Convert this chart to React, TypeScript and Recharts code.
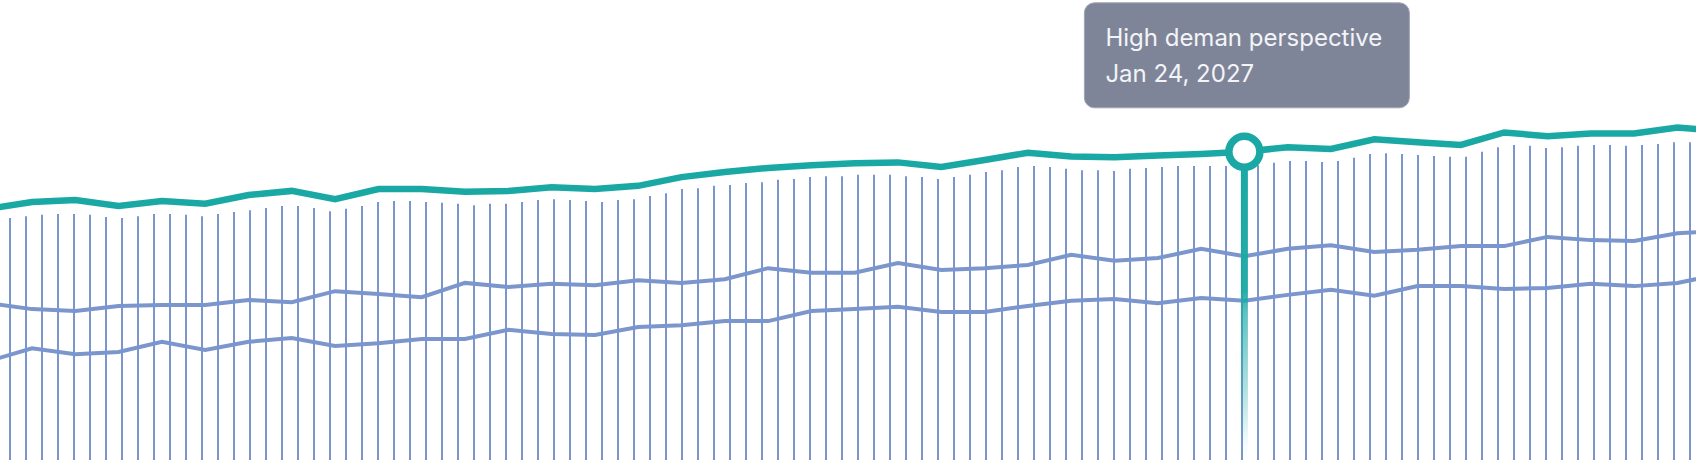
import React from 'react';
import { ComposedChart, Bar, Line, XAxis, YAxis } from 'recharts';

// weekly points of the three lines (first and last sit just outside the frame)
const pointIndex = [
  -1, 0, 1, 2, 3, 4, 5, 6, 7, 8, 9, 10, 11, 12, 13, 14, 15, 16, 17, 18, 19, 20,
  21, 22, 23, 24, 25, 26, 27, 28, 29, 30, 31, 32, 33, 34, 35, 36, 37, 38, 39,
];

const highDemand = [
  54.6, 56.1, 56.5, 55.2, 56.3, 55.7, 57.6, 58.5, 56.7, 58.9, 58.9, 58.3, 58.5, 59.3,
  58.9, 59.6, 61.5, 62.6, 63.5, 64.1, 64.5, 64.7, 63.7, 65.2, 66.8, 66.0, 65.8, 66.2,
  66.5, 67.0, 68.0, 67.6, 69.7, 69.1, 68.5, 71.2, 70.4, 71.0, 71.0, 72.3, 71.5,
];

const midDemand = [
  34.1, 32.8, 32.4, 33.5, 33.7, 33.7, 34.8, 34.3, 36.7, 36.1, 35.4, 38.5, 37.6, 38.3,
  38.0, 39.1, 38.5, 39.3, 41.7, 40.7, 40.7, 42.8, 41.3, 41.7, 42.4, 44.6, 43.3, 43.9,
  45.9, 44.3, 45.9, 46.7, 45.2, 45.7, 46.5, 46.5, 48.5, 47.8, 47.6, 49.3, 49.8,
];

const lowDemand = [
  21.5, 24.3, 23.0, 23.5, 25.7, 23.9, 25.7, 26.5, 24.8, 25.4, 26.3, 26.3, 28.3, 27.4,
  27.2, 28.9, 29.3, 30.2, 30.2, 32.4, 32.8, 33.3, 32.2, 32.2, 33.5, 34.6, 35.0, 34.1,
  35.2, 34.6, 35.9, 37.0, 35.7, 37.8, 37.8, 37.2, 37.4, 38.3, 37.8, 38.5, 40.4,
];

// daily volume ticks drawn as thin bars
const dailyVolume = [
  52.6, 53.0, 53.3, 53.5, 53.5, 53.3, 52.8, 52.6, 53.0, 53.5, 53.5, 53.3, 53.0, 53.5, 53.9, 54.3, 54.8, 55.2,
  55.2, 54.8, 54.1, 54.6, 55.2, 56.1, 56.3, 56.3, 56.1, 55.9, 55.7, 55.4, 55.7, 55.7, 56.1, 56.5, 56.7,
  56.5, 56.3, 56.1, 56.5, 56.7, 57.4, 58.0, 58.9, 59.1, 59.6, 59.8, 60.2, 60.4, 60.9, 61.1, 61.5, 61.7, 61.7,
  62.0, 62.0, 62.0, 61.7, 61.5, 61.1, 61.5, 62.0, 62.6, 63.0, 63.7, 63.9, 63.7, 63.3, 63.0, 63.0, 62.8, 63.3,
  63.5, 63.7, 63.9, 63.9, 63.9, 63.9, 64.1, 64.1, 64.6, 65.0, 65.0, 64.8, 65.0, 65.7, 66.5, 66.7, 66.5,
  66.3, 66.1, 65.9, 65.9, 67.0, 68.0, 68.5, 68.3, 67.8, 68.0, 68.3, 68.5, 68.5, 68.3, 68.5, 68.7, 69.1, 69.1,
];

const ACTIVE_POINT = 28;
const tooltipTitle = 'High deman perspective';
const tooltipDate = 'Jan 24, 2027';

const TEAL = '#1aa8a4';
const BLUE = '#7b96cc';
const W = 1696;
const H = 460;

const barRows = dailyVolume.map((v, i) => ({ i, v }));
const lineRows = pointIndex.map((k, idx) => ({
  k,
  high: highDemand[idx],
  mid: midDemand[idx],
  low: lowDemand[idx],
}));

const ActiveDot = (props: any) => {
  const { cx, cy, payload, index } = props;
  if (!payload || payload.k !== ACTIVE_POINT) return <g key={`dot-${index}`} />;
  return (
    <g key="active-dot">
      <defs>
        <linearGradient id="stemFade" x1="0" y1="0" x2="0" y2="1">
          <stop offset="0" stopColor={TEAL} stopOpacity={1} />
          <stop offset="0.45" stopColor={TEAL} stopOpacity={0.95} />
          <stop offset="0.52" stopColor={TEAL} stopOpacity={0.7} />
          <stop offset="0.8" stopColor={TEAL} stopOpacity={0.3} />
          <stop offset="0.95" stopColor={TEAL} stopOpacity={0.04} />
          <stop offset="1" stopColor={TEAL} stopOpacity={0} />
        </linearGradient>
      </defs>
      <rect x={cx - 3.5} y={cy} width={7} height={H - cy} fill="url(#stemFade)" />
      <circle cx={cx} cy={cy} r={15.5} fill="#fff" stroke={TEAL} strokeWidth={7.5} />
      <rect
        x={cx - 160}
        y={cy - 149}
        width={325}
        height={105}
        rx={10}
        fill="#7f8599"
        stroke="#a0a5b4"
        strokeWidth={1}
      />
      <text x={cx - 139} y={cy - 106} fill="#f3f4f7" fontSize={24} fontFamily="Inter">
        {tooltipTitle}
      </text>
      <text x={cx - 139} y={cy - 70} fill="#f3f4f7" fontSize={24} fontFamily="Inter">
        {tooltipDate}
      </text>
    </g>
  );
};

export default function App() {
  return (
    <div
      style={{
        position: 'absolute',
        left: 0,
        top: 0,
        width: W,
        height: H,
        overflow: 'hidden',
        background: '#fff',
      }}
    >
      <ComposedChart width={W} height={H} data={barRows} margin={{ top: 0, right: 0, bottom: 0, left: 0 }}>
        <XAxis xAxisId="bar" dataKey="i" type="category" hide padding={{ left: 2, right: -2 }} />
        <XAxis
          xAxisId="line"
          dataKey="k"
          type="number"
          domain={[-0.739, 38.43]}
          allowDataOverflow
          hide
        />
        <YAxis domain={[0, 100]} hide allowDataOverflow />
        <Bar xAxisId="bar" dataKey="v" barSize={2} fill={BLUE} isAnimationActive={false} />
        <Line
          xAxisId="line"
          data={lineRows}
          dataKey="mid"
          type="linear"
          stroke={BLUE}
          strokeWidth={4}
          dot={false}
          activeDot={false}
          isAnimationActive={false}
        />
        <Line
          xAxisId="line"
          data={lineRows}
          dataKey="low"
          type="linear"
          stroke={BLUE}
          strokeWidth={4}
          dot={false}
          activeDot={false}
          isAnimationActive={false}
        />
        <Line
          xAxisId="line"
          data={lineRows}
          dataKey="high"
          type="linear"
          stroke={TEAL}
          strokeWidth={6.5}
          dot={ActiveDot}
          activeDot={false}
          isAnimationActive={false}
        />
      </ComposedChart>
    </div>
  );
}
